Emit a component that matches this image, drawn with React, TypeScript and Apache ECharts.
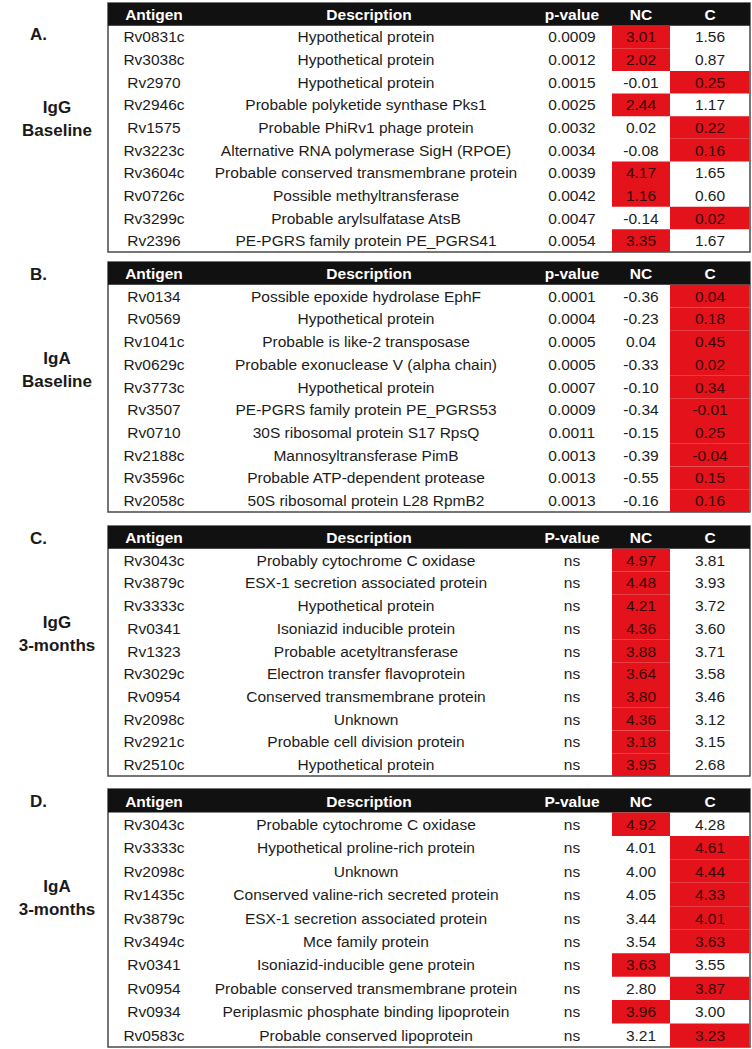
import React, { useEffect, useRef } from 'react';
import * as echarts from 'echarts';

// ---------- data ----------
const headersBaseline = ['Antigen', 'Description', 'p-value', 'NC', 'C'];
const headersMonths = ['Antigen', 'Description', 'P-value', 'NC', 'C'];

const panelLetters = ['A.', 'B.', 'C.', 'D.'];
const panelIg = ['IgG', 'IgA', 'IgG', 'IgA'];
const panelTime = ['Baseline', 'Baseline', '3-months', '3-months'];

const antigensA = ['Rv0831c', 'Rv3038c', 'Rv2970', 'Rv2946c', 'Rv1575', 'Rv3223c', 'Rv3604c', 'Rv0726c', 'Rv3299c', 'Rv2396'];
const descA = ['Hypothetical protein', 'Hypothetical protein', 'Hypothetical protein', 'Probable polyketide synthase Pks1', 'Probable PhiRv1 phage protein', 'Alternative RNA polymerase SigH (RPOE)', 'Probable conserved transmembrane protein', 'Possible methyltransferase', 'Probable arylsulfatase AtsB', 'PE-PGRS family protein PE_PGRS41'];
const pA = ['0.0009', '0.0012', '0.0015', '0.0025', '0.0032', '0.0034', '0.0039', '0.0042', '0.0047', '0.0054'];
const ncA = [3.01, 2.02, -0.01, 2.44, 0.02, -0.08, 4.17, 1.16, -0.14, 3.35];
const cA = [1.56, 0.87, 0.25, 1.17, 0.22, 0.16, 1.65, 0.60, 0.02, 1.67];

const antigensB = ['Rv0134', 'Rv0569', 'Rv1041c', 'Rv0629c', 'Rv3773c', 'Rv3507', 'Rv0710', 'Rv2188c', 'Rv3596c', 'Rv2058c'];
const descB = ['Possible epoxide hydrolase EphF', 'Hypothetical protein', 'Probable is like-2 transposase', 'Probable exonuclease V (alpha chain)', 'Hypothetical protein', 'PE-PGRS family protein PE_PGRS53', '30S ribosomal protein S17 RpsQ', 'Mannosyltransferase PimB', 'Probable ATP-dependent protease', '50S ribosomal protein L28 RpmB2'];
const pB = ['0.0001', '0.0004', '0.0005', '0.0005', '0.0007', '0.0009', '0.0011', '0.0013', '0.0013', '0.0013'];
const ncB = [-0.36, -0.23, 0.04, -0.33, -0.10, -0.34, -0.15, -0.39, -0.55, -0.16];
const cB = [0.04, 0.18, 0.45, 0.02, 0.34, -0.01, 0.25, -0.04, 0.15, 0.16];

const antigensC = ['Rv3043c', 'Rv3879c', 'Rv3333c', 'Rv0341', 'Rv1323', 'Rv3029c', 'Rv0954', 'Rv2098c', 'Rv2921c', 'Rv2510c'];
const descC = ['Probably cytochrome C oxidase', 'ESX-1 secretion associated protein', 'Hypothetical protein', 'Isoniazid inducible protein', 'Probable acetyltransferase', 'Electron transfer flavoprotein', 'Conserved transmembrane protein', 'Unknown', 'Probable cell division protein', 'Hypothetical protein'];
const pC = ['ns', 'ns', 'ns', 'ns', 'ns', 'ns', 'ns', 'ns', 'ns', 'ns'];
const ncC = [4.97, 4.48, 4.21, 4.36, 3.88, 3.64, 3.80, 4.36, 3.18, 3.95];
const cC = [3.81, 3.93, 3.72, 3.60, 3.71, 3.58, 3.46, 3.12, 3.15, 2.68];

const antigensD = ['Rv3043c', 'Rv3333c', 'Rv2098c', 'Rv1435c', 'Rv3879c', 'Rv3494c', 'Rv0341', 'Rv0954', 'Rv0934', 'Rv0583c'];
const descD = ['Probable cytochrome C oxidase', 'Hypothetical proline-rich protein', 'Unknown', 'Conserved valine-rich secreted protein', 'ESX-1 secretion associated protein', 'Mce family protein', 'Isoniazid-inducible gene protein', 'Probable conserved transmembrane protein', 'Periplasmic phosphate binding lipoprotein', 'Probable conserved lipoprotein'];
const pD = ['ns', 'ns', 'ns', 'ns', 'ns', 'ns', 'ns', 'ns', 'ns', 'ns'];
const ncD = [4.92, 4.01, 4.00, 4.05, 3.44, 3.54, 3.63, 2.80, 3.96, 3.21];
const cD = [4.28, 4.61, 4.44, 4.33, 4.01, 3.63, 3.55, 3.87, 3.00, 3.23];

// ---------- layout / style ----------
const W = 752;
const H = 1049;
const TABLE_LEFT = 108;
const TABLE_WIDTH = 642;
const tableTops = [3, 262, 526, 789];
const tableBottoms = [252, 512, 776, 1047];
const igOffsets = [104, 96, 96, 97];
const FONT = '"Liberation Sans", Arial, Helvetica, sans-serif';
const FS = 15.5;
const RED = '#e3121b';
const TEXT = '#1c1c1c';
// column centres / edges relative to table left
const COL_ANTIGEN = 46;
const COL_DESC = 258;
const COL_P = 464;
const NC_L = 504;
const NC_R = 562;
const C_R = 642;

type Table = {
  headers: string[];
  antigens: string[];
  desc: string[];
  p: string[];
  nc: number[];
  c: number[];
};

const tables: Table[] = [
  { headers: headersBaseline, antigens: antigensA, desc: descA, p: pA, nc: ncA, c: cA },
  { headers: headersBaseline, antigens: antigensB, desc: descB, p: pB, nc: ncB, c: cB },
  { headers: headersMonths, antigens: antigensC, desc: descC, p: pC, nc: ncC, c: cC },
  { headers: headersMonths, antigens: antigensD, desc: descD, p: pD, nc: ncD, c: cD },
];

function txt(text: string, x: number, y: number, opts: any = {}) {
  return {
    type: 'text',
    style: {
      text,
      x,
      y,
      fill: opts.fill || TEXT,
      fontSize: opts.fontSize || FS,
      fontFamily: FONT,
      fontWeight: opts.fontWeight || 'normal',
      align: 'center',
      verticalAlign: 'middle',
      textAlign: 'center',
      textVerticalAlign: 'middle',
    },
  };
}

function label(text: string, x: number, y: number, align: string) {
  return {
    type: 'text',
    x,
    y,
    style: {
      text,
      fontSize: 17,
      fontWeight: 'bold',
      fontFamily: FONT,
      fill: '#1a1a1a',
      textAlign: align,
      textVerticalAlign: 'middle',
      align,
      verticalAlign: 'middle',
    },
  };
}

function buildOption() {
  const grid: any[] = [];
  const xAxis: any[] = [];
  const yAxis: any[] = [];
  const series: any[] = [];
  const graphic: any[] = [];

  tables.forEach((t, ti) => {
    const top = tableTops[ti];
    const height = tableBottoms[ti] - top;
    grid.push({
      left: TABLE_LEFT,
      top,
      width: TABLE_WIDTH,
      height,
      show: true,
      backgroundColor: '#ffffff',
      borderColor: '#4a4a4a',
      borderWidth: 1.5,
    });
    xAxis.push({ type: 'value', gridIndex: ti, min: 0, max: 1, show: false });
    const cats = ['header', ...t.antigens];
    yAxis.push({ type: 'category', gridIndex: ti, data: cats, inverse: true, show: false, boundaryGap: true });

    const data = cats.map((_, i) => [0.5, i]);
    series.push({
      type: 'custom',
      xAxisIndex: ti,
      yAxisIndex: ti,
      data,
      clip: false,
      renderItem: (params: any, api: any) => {
        const idx = api.value(1);
        const cs = params.coordSys;
        const x0 = cs.x;
        const center = api.coord([0.5, idx]);
        const bandH = api.size([0, 1])[1];
        const yc = center[1];
        const yTop = yc - bandH / 2;
        const children: any[] = [];
        if (idx === 0) {
          children.push({
            type: 'rect',
            shape: { x: x0, y: yTop, width: cs.width, height: bandH },
            style: { fill: '#111111' },
          });
          const hx = [COL_ANTIGEN, COL_DESC + 3, COL_P, (NC_L + NC_R) / 2, (NC_R + C_R) / 2];
          t.headers.forEach((h, k) => {
            children.push(txt(h, x0 + hx[k], yc + 0.5, { fill: '#ffffff', fontWeight: 'bold' }));
          });
        } else {
          const r = idx - 1;
          const ncV = t.nc[r];
          const cV = t.c[r];
          const ncHigh = ncV > cV;
          children.push({
            type: 'rect',
            shape: ncHigh
              ? { x: x0 + NC_L, y: yTop, width: NC_R - NC_L, height: bandH }
              : { x: x0 + NC_R, y: yTop, width: C_R - NC_R - 0.75, height: bandH },
            style: { fill: RED },
          });
          children.push(txt(t.antigens[r], x0 + COL_ANTIGEN, yc));
          children.push(txt(t.desc[r], x0 + COL_DESC, yc));
          children.push(txt(t.p[r], x0 + COL_P, yc));
          children.push(txt(ncV.toFixed(2), x0 + (NC_L + NC_R) / 2, yc, { fill: ncHigh ? '#3a0606' : TEXT }));
          children.push(txt(cV.toFixed(2), x0 + (NC_R + C_R) / 2, yc, { fill: ncHigh ? TEXT : '#3a0606' }));
        }
        return { type: 'group', children };
      },
    });

    graphic.push(label(panelLetters[ti], 30, ti === 0 ? 34 : top + 12, 'left'));
    graphic.push(label(panelIg[ti], 57, top + igOffsets[ti], 'center'));
    graphic.push(label(panelTime[ti], 57, top + igOffsets[ti] + 23, 'center'));
  });

  return {
    animation: false,
    backgroundColor: '#ffffff',
    grid,
    xAxis,
    yAxis,
    series,
    graphic,
  };
}

export default function App() {
  const ref = useRef<HTMLDivElement>(null);
  useEffect(() => {
    document.body.style.margin = '0';
    if (!ref.current) return;
    const chart = echarts.init(ref.current, undefined, { renderer: 'svg' });
    chart.setOption(buildOption() as any);
    return () => {
      chart.dispose();
    };
  }, []);
  return <div ref={ref} style={{ width: W, height: H }} />;
}
